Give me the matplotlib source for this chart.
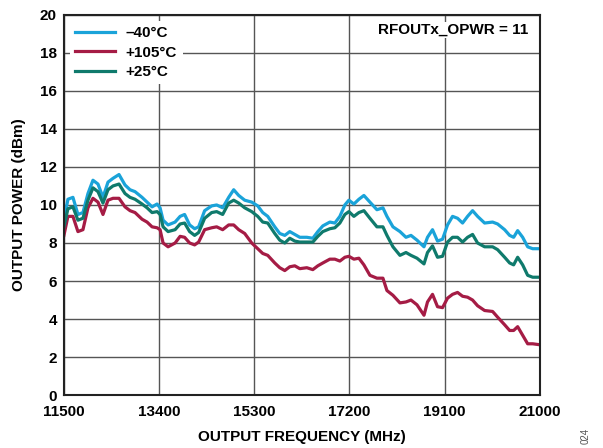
import matplotlib.pyplot as plt

plt.rcParams['font.family'] = ['Liberation Sans', 'DejaVu Sans']
plt.rcParams['font.weight'] = 'bold'

# Output frequency (MHz), shared by all three curves
freq_mhz = [11500, 11580, 11680, 11780, 11880, 11980, 12080, 12180, 12280, 12380,
            12480, 12600, 12720, 12820, 12920, 13060, 13160, 13260, 13360, 13420,
            13480, 13580, 13720, 13820, 13910, 14010, 14110, 14190, 14310, 14450,
            14550, 14670, 14790, 14890, 14990, 15110, 15250, 15370, 15470, 15570,
            15710, 15810, 15910, 16010, 16110, 16210, 16350, 16470, 16570, 16670,
            16810, 16910, 17010, 17110, 17190, 17290, 17390, 17490, 17610, 17750,
            17870, 17950, 18070, 18210, 18330, 18430, 18550, 18690, 18760, 18860,
            18960, 19060, 19160, 19260, 19360, 19460, 19560, 19660, 19760, 19900,
            20060, 20160, 20300, 20400, 20480, 20560, 20660, 20760, 20860, 21000]

# Output power (dBm) at -40 C
pwr_m40 = [9.2, 10.3, 10.4, 9.5, 9.6, 10.6, 11.3, 11.1, 10.4, 11.2,
           11.4, 11.6, 11.05, 10.8, 10.7, 10.4, 10.15, 9.9, 10.05, 9.85,
           9.2, 8.95, 9.1, 9.4, 9.5, 8.95, 8.75, 8.85, 9.7, 9.95,
           10.0, 9.85, 10.4, 10.8, 10.5, 10.25, 10.15, 9.95, 9.6, 9.4,
           8.85, 8.5, 8.4, 8.6, 8.45, 8.3, 8.3, 8.25, 8.6, 8.9,
           9.1, 9.05, 9.4, 10.0, 10.25, 10.05, 10.3, 10.5, 10.15, 9.75,
           9.85, 9.4, 8.85, 8.6, 8.3, 8.4, 8.15, 7.8, 8.3, 8.7,
           8.1, 8.2, 8.95, 9.4, 9.3, 9.05, 9.4, 9.7, 9.4, 9.05,
           9.1, 9.0, 8.7, 8.4, 8.3, 8.65, 8.3, 7.8, 7.7, 7.7]

# Output power (dBm) at +105 C
pwr_p105 = [8.4, 9.4, 9.4, 8.6, 8.7, 9.85, 10.35, 10.15, 9.5, 10.25,
            10.35, 10.35, 9.9, 9.7, 9.6, 9.25, 9.1, 8.85, 8.8, 8.7,
            8.0, 7.8, 8.0, 8.35, 8.3, 8.0, 7.9, 8.05, 8.7, 8.8,
            8.85, 8.7, 8.95, 8.95, 8.7, 8.5, 8.0, 7.7, 7.45, 7.35,
            6.95, 6.7, 6.55, 6.75, 6.8, 6.65, 6.7, 6.6, 6.8, 6.95,
            7.15, 7.15, 7.05, 7.25, 7.3, 7.15, 7.2, 6.85, 6.3, 6.15,
            6.15, 5.5, 5.25, 4.85, 4.9, 5.0, 4.75, 4.2, 4.9, 5.3,
            4.65, 4.6, 5.1, 5.3, 5.4, 5.2, 5.15, 5.0, 4.7, 4.45,
            4.4, 4.1, 3.7, 3.4, 3.4, 3.6, 3.15, 2.7, 2.7, 2.65]

# Output power (dBm) at +25 C
pwr_p25 = [8.85, 9.8, 9.9, 9.2, 9.3, 10.25, 10.9, 10.7, 10.1, 10.8,
           11.0, 11.1, 10.6, 10.4, 10.3, 10.05, 9.85, 9.6, 9.65, 9.5,
           8.85, 8.6, 8.7, 9.0, 9.05, 8.6, 8.4, 8.55, 9.3, 9.6,
           9.65, 9.5, 10.1, 10.25, 10.1, 9.85, 9.65, 9.4, 9.1, 9.05,
           8.5, 8.15, 8.0, 8.25, 8.1, 8.05, 8.05, 8.05, 8.35, 8.6,
           8.75, 8.8, 9.05, 9.5, 9.65, 9.4, 9.6, 9.7, 9.3, 8.85,
           8.85, 8.4, 7.8, 7.35, 7.5, 7.35, 7.2, 6.9, 7.5, 7.85,
           7.25, 7.3, 8.05, 8.3, 8.3, 8.05, 8.3, 8.45, 8.0, 7.8,
           7.8, 7.65, 7.25, 6.95, 6.85, 7.25, 6.85, 6.3, 6.2, 6.2]

x_ticks = [11500, 13400, 15300, 17200, 19100, 21000]
y_ticks = [0, 2, 4, 6, 8, 10, 12, 14, 16, 18, 20]

fig = plt.figure(figsize=(6.03, 4.48), dpi=100)
ax = fig.add_axes([0.106, 0.118, 0.789, 0.849])

ax.plot(freq_mhz, pwr_m40, color='#1aa3d9', lw=2.3, label='\u201340\u00b0C')
ax.plot(freq_mhz, pwr_p105, color='#a51c45', lw=2.3, label='+105\u00b0C')
ax.plot(freq_mhz, pwr_p25, color='#0f7a6c', lw=2.3, label='+25\u00b0C')

ax.set_xlim(11500, 21000)
ax.set_ylim(0, 20)
ax.set_xticks(x_ticks)
ax.set_yticks(y_ticks)
ax.tick_params(length=0, labelsize=11)
ax.tick_params(axis='x', pad=7)
ax.tick_params(axis='y', pad=5)
ax.grid(True, color='#555555', lw=1)
for s in ax.spines.values():
    s.set_linewidth(1.5)
    s.set_color('#222222')

ax.set_xlabel('OUTPUT FREQUENCY (MHz)', fontsize=11, fontweight='bold', labelpad=8)
ax.set_ylabel('OUTPUT POWER (dBm)', fontsize=11, fontweight='bold', labelpad=10)

leg = ax.legend(loc='upper left', fontsize=11, frameon=True, framealpha=1,
                edgecolor='none', facecolor='white', handlelength=2.6,
                borderpad=0.35, labelspacing=0.35, borderaxespad=0.4, handletextpad=0.7)
leg.get_frame().set_boxstyle('square', pad=0)

ax.text(0.975, 0.96, 'RFOUTx_OPWR = 11', transform=ax.transAxes, ha='right', va='center',
        fontsize=11, fontweight='bold',
        bbox=dict(facecolor='white', edgecolor='none', pad=1))

fig.text(0.972, 0.008, '024', rotation=90, fontsize=7, color='#555555', fontweight='normal',
         ha='center', va='bottom')

plt.savefig('out.png', dpi=100)
